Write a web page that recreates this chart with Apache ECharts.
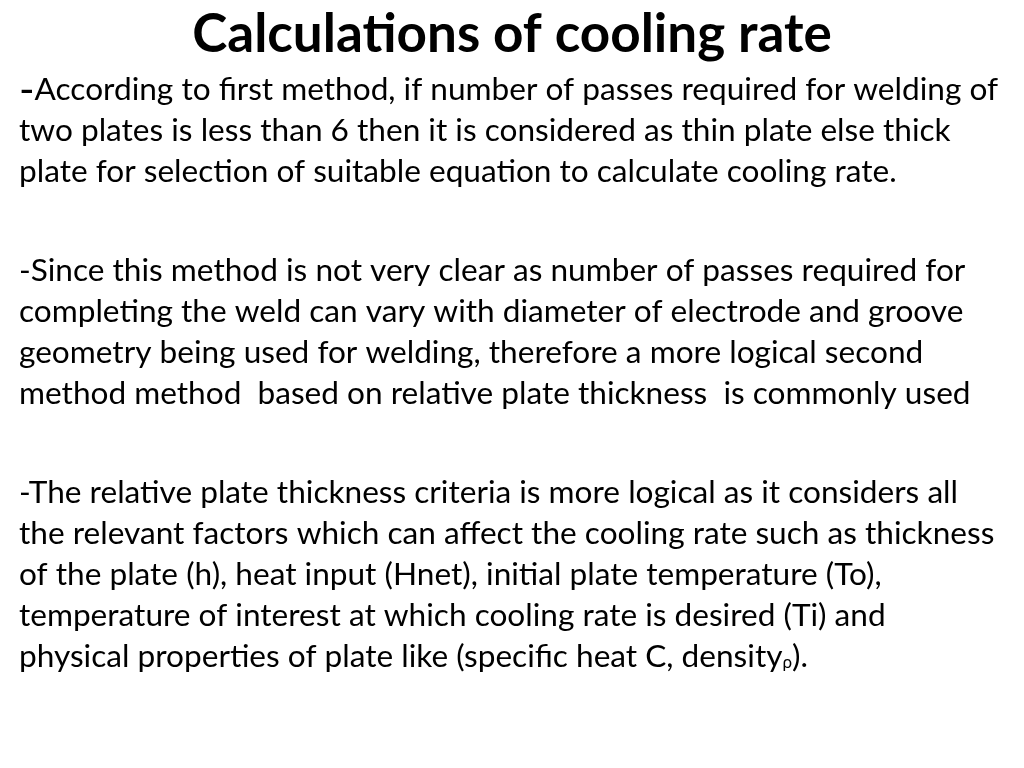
<!DOCTYPE html>
<html><head><meta charset="utf-8">
<script src="https://cdn.jsdelivr.net/npm/echarts@6/dist/echarts.min.js"></script>
<style>html,body{margin:0;padding:0;background:#fff}#c{width:1024px;height:768px}</style>
</head><body><div id="c"></div>
<script>
const title = "Calculations of cooling rate";
const para1 = ["{big|-}According to first method, if number of passes required for welding of",
"two plates is less than 6 then it is considered as thin plate else thick",
"plate for selection of suitable equation to calculate cooling rate."];
const para2 = ["-Since this method is not very clear as number of passes required for",
"completing the weld can vary with diameter of electrode and groove",
"geometry being used for welding, therefore a more logical second",
"method method  based on relative plate thickness  is commonly used"];
const para3 = ["-The relative plate thickness criteria is more logical as it considers all",
"the relevant factors which can affect the cooling rate such as thickness",
"of the plate (h), heat input (Hnet), initial plate temperature (To),",
"temperature of interest at which cooling rate is desired (Ti) and",
"physical properties of plate like (specific heat C, density{sub|ρ})."];
const paraTops = [90, 271, 493];
const lineGap = 41;
const font = "Lato, 'Noto Sans', sans-serif";
const chart = echarts.init(document.getElementById('c'));
const els = [{type:'text', x:512, y:35, style:{text:title, font:"bold 53px "+font, fill:'#000', align:'center', verticalAlign:'middle'}}];
[para1, para2, para3].forEach((p, pi) => p.forEach((t, i) => {
  els.push({type:'text', x:19, y:paraTops[pi] + i*lineGap, style:{text:t, fontFamily:font, fontSize:31.6, fill:'#000', verticalAlign:'middle',
    rich:{big:{fontSize:42, fontFamily:font, fill:'#000'}, sub:{fontSize:17, fontFamily:font, fill:'#000', padding:[12,0,0,0]}}}});
}));
chart.setOption({graphic: els});
</script></body></html>
